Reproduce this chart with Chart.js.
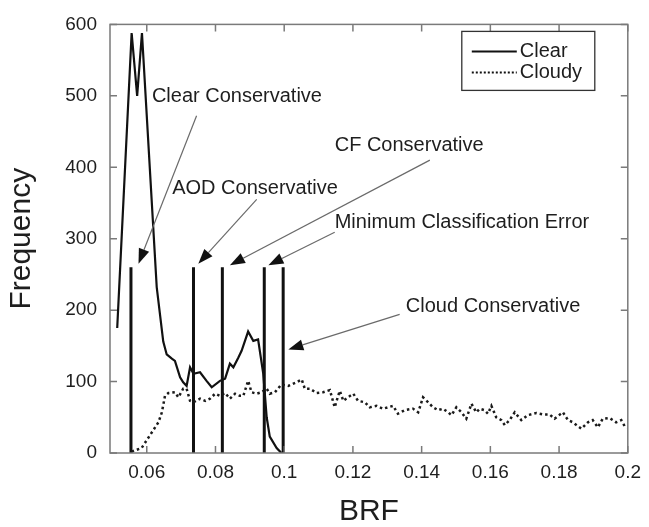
<!DOCTYPE html>
<html>
<head>
<meta charset="utf-8">
<script src="https://cdn.jsdelivr.net/npm/chart.js@4.4.1/dist/chart.umd.min.js"></script>
<style>
  html, body { margin: 0; padding: 0; background: #fff; }
</style>
</head>
<body>
<canvas id="brfChart" width="649" height="527"></canvas>
<script>
// values
const clearBrf = [0.0514, 0.0556, 0.0572, 0.0586, 0.0629, 0.0648, 0.0658, 0.0673, 0.0682, 0.0697,
                  0.0706, 0.0716, 0.0726, 0.0736, 0.0755, 0.0774, 0.0789, 0.0813, 0.0828, 0.0842,
                  0.0852, 0.0866, 0.0876, 0.0895, 0.0910, 0.0924, 0.0939, 0.0949, 0.0958, 0.0978, 0.0992];
const clearFreq = [175, 588, 500, 588, 232, 156, 138, 132, 129, 106,
                   99, 94, 120, 111, 113, 101, 92, 101, 104, 125,
                   120, 133, 143, 170, 157, 159, 111, 50, 23, 7, 0];

const cloudyBrf = [0.0556, 0.0585, 0.0600, 0.0619, 0.0634, 0.0644, 0.0653, 0.0663, 0.0682, 0.0692,
                   0.0706, 0.0716, 0.0726, 0.0736, 0.0755, 0.0770, 0.0784, 0.0799, 0.0813, 0.0828,
                   0.0842, 0.0857, 0.0871, 0.0881, 0.0895, 0.0905, 0.0920, 0.0934, 0.0949, 0.0958,
                   0.0973, 0.0992, 0.1012, 0.1036, 0.1051, 0.1060, 0.1075, 0.1094, 0.1113, 0.1133,
                   0.1147, 0.1157, 0.1162, 0.1172, 0.1186, 0.1201, 0.1215, 0.1235, 0.1249, 0.1269,
                   0.1288, 0.1302, 0.1317, 0.1331, 0.1351, 0.1375, 0.1390, 0.1404, 0.1419, 0.1433,
                   0.1448, 0.1462, 0.1477, 0.1487, 0.1501, 0.1516, 0.1530, 0.1545, 0.1559, 0.1569,
                   0.1583, 0.1593, 0.1603, 0.1617, 0.1632, 0.1642, 0.1656, 0.1671, 0.1690, 0.1709,
                   0.1734, 0.1753, 0.1772, 0.1787, 0.1811, 0.1826, 0.1840, 0.1865, 0.1884, 0.1898,
                   0.1913, 0.1927, 0.1947, 0.1966, 0.1981, 0.1995];
const cloudyFreq = [2, 7, 18, 32, 43, 57, 80, 84, 85, 78,
                    90, 90, 73, 71, 76, 73, 76, 83, 80, 84,
                    76, 83, 80, 80, 101, 85, 83, 85, 90, 83,
                    85, 96, 94, 99, 103, 90, 90, 84, 85, 88,
                    64, 80, 87, 73, 78, 83, 73, 71, 64, 66,
                    62, 64, 66, 55, 60, 62, 57, 78, 71, 64,
                    60, 62, 57, 53, 64, 57, 48, 69, 57, 62,
                    60, 55, 66, 50, 46, 39, 46, 57, 46, 53,
                    56, 54, 54, 48, 57, 46, 43, 34, 43, 46,
                    36, 48, 49, 43, 46, 34];

// classification thresholds (BRF) and the height of their markers
const thresholds = [0.0554, 0.0736, 0.0820, 0.0942, 0.0997];
const thresholdTop = 260;

const xTicks = [0.06, 0.08, 0.1, 0.12, 0.14, 0.16, 0.18, 0.2];
const seriesNames = ['Clear', 'Cloudy'];
const noteLabels = ['Clear Conservative', 'AOD Conservative', 'CF Conservative',
                    'Minimum Classification Error', 'Cloud Conservative'];

const FONT = '"Liberation Sans", Arial, Helvetica, sans-serif';
const INK = '#1e1e1e';

const toPoints = (xs, ys) => xs.map((v, i) => ({x: v, y: ys[i]}));

// where each note sits: text anchor, arrow tail, arrow tip (data units)
const notePlaces = [
  {at: [0.0615, 499], from: [0.0745, 472], to: [0.0576, 265]},
  {at: [0.0674, 370], from: [0.0920, 355], to: [0.0750, 265]},
  {at: [0.1147, 431], from: [0.1424, 410], to: [0.0842, 263]},
  {at: [0.1147, 323], from: [0.1147, 309], to: [0.0954, 263]},
  {at: [0.1354, 205], from: [0.1336, 194], to: [0.1012, 145]}
];

const frame = {
  id: 'frame',
  afterDraw(chart) {
    const {ctx, chartArea: a, scales: {x, y}} = chart;
    ctx.save();
    ctx.strokeStyle = '#7a7a7a';
    ctx.lineWidth = 1.5;
    ctx.strokeRect(a.left, a.top, a.right - a.left, a.bottom - a.top);
    ctx.beginPath();
    x.ticks.forEach(t => {
      const px = x.getPixelForValue(t.value);
      ctx.moveTo(px, a.bottom); ctx.lineTo(px, a.bottom - 7);
      ctx.moveTo(px, a.top); ctx.lineTo(px, a.top + 7);
    });
    y.ticks.forEach(t => {
      const py = y.getPixelForValue(t.value);
      ctx.moveTo(a.left, py); ctx.lineTo(a.left + 7, py);
      ctx.moveTo(a.right, py); ctx.lineTo(a.right - 7, py);
    });
    ctx.stroke();

    // notes with arrows
    ctx.font = '20px ' + FONT;
    ctx.textBaseline = 'middle';
    ctx.textAlign = 'left';
    notePlaces.forEach((n, i) => {
      const tx = x.getPixelForValue(n.at[0]), ty = y.getPixelForValue(n.at[1]);
      ctx.fillStyle = INK;
      ctx.fillText(noteLabels[i], tx, ty);
      const x0 = x.getPixelForValue(n.from[0]), y0 = y.getPixelForValue(n.from[1]);
      const x1 = x.getPixelForValue(n.to[0]), y1 = y.getPixelForValue(n.to[1]);
      const ang = Math.atan2(y1 - y0, x1 - x0);
      const len = 15, half = 5.5;
      const bx = x1 - len * Math.cos(ang), by = y1 - len * Math.sin(ang);
      ctx.strokeStyle = '#6a6a6a';
      ctx.lineWidth = 1.2;
      ctx.beginPath();
      ctx.moveTo(x0, y0); ctx.lineTo(bx, by);
      ctx.stroke();
      ctx.fillStyle = '#111';
      ctx.beginPath();
      ctx.moveTo(x1, y1);
      ctx.lineTo(bx + half * Math.sin(ang), by - half * Math.cos(ang));
      ctx.lineTo(bx - half * Math.sin(ang), by + half * Math.cos(ang));
      ctx.closePath();
      ctx.fill();
    });

    // legend box
    const lx = a.right - 166, ly = a.top + 7, lw = 133, lh = 59;
    ctx.strokeStyle = '#333';
    ctx.lineWidth = 1.3;
    ctx.strokeRect(lx, ly, lw, lh);
    ctx.lineWidth = 2;
    ctx.strokeStyle = '#111';
    seriesNames.forEach((name, i) => {
      const rowY = ly + 20 + i * 21;
      ctx.setLineDash(i === 0 ? [] : [2, 2]);
      ctx.beginPath();
      ctx.moveTo(lx + 10, rowY); ctx.lineTo(lx + 55, rowY);
      ctx.stroke();
      ctx.fillStyle = INK;
      ctx.fillText(name, lx + 58, rowY);
    });
    ctx.setLineDash([]);
    ctx.restore();
  }
};

const datasets = [
  {
    label: seriesNames[0],
    data: toPoints(clearBrf, clearFreq),
    borderColor: '#111',
    borderWidth: 2.2,
    pointRadius: 0,
    tension: 0
  },
  {
    label: seriesNames[1],
    data: toPoints(cloudyBrf, cloudyFreq),
    borderColor: '#1a1a1a',
    borderWidth: 2.5,
    borderDash: [2.5, 3],
    pointRadius: 0,
    tension: 0
  }
];
thresholds.forEach(t => {
  datasets.push({
    label: 'threshold',
    data: [{x: t, y: 0}, {x: t, y: thresholdTop}],
    borderColor: '#111',
    borderWidth: 3,
    pointRadius: 0
  });
});

new Chart(document.getElementById('brfChart'), {
  type: 'line',
  data: {datasets: datasets},
  options: {
    responsive: false,
    animation: false,
    layout: {padding: {top: 20, right: 19, left: 0, bottom: 0}},
    plugins: {
      legend: {display: false},
      tooltip: {enabled: false}
    },
    scales: {
      x: {
        type: 'linear',
        min: 0.0493,
        max: 0.2,
        afterBuildTicks: scale => { scale.ticks = xTicks.map(v => ({value: v})); },
        afterFit: scale => { scale.height = 74; },
        grid: {display: false, drawTicks: false},
        border: {display: false},
        ticks: {
          padding: 8,
          maxRotation: 0,
          autoSkip: false,
          color: INK,
          font: {family: FONT, size: 19},
          callback: v => String(+v.toFixed(2))
        },
        title: {
          display: true,
          text: 'BRF',
          color: INK,
          font: {family: FONT, size: 30, lineHeight: 1},
          padding: {top: 0, bottom: 0}
        }
      },
      y: {
        min: 0,
        max: 600,
        afterFit: scale => { scale.width = 110; },
        grid: {display: false, drawTicks: false},
        border: {display: false},
        ticks: {
          stepSize: 100,
          padding: 13,
          color: INK,
          font: {family: FONT, size: 19}
        },
        title: {
          display: true,
          text: 'Frequency',
          color: INK,
          font: {family: FONT, size: 30, lineHeight: 1},
          padding: {top: 7, bottom: 0}
        }
      }
    }
  },
  plugins: [frame]
});
</script>
</body>
</html>
